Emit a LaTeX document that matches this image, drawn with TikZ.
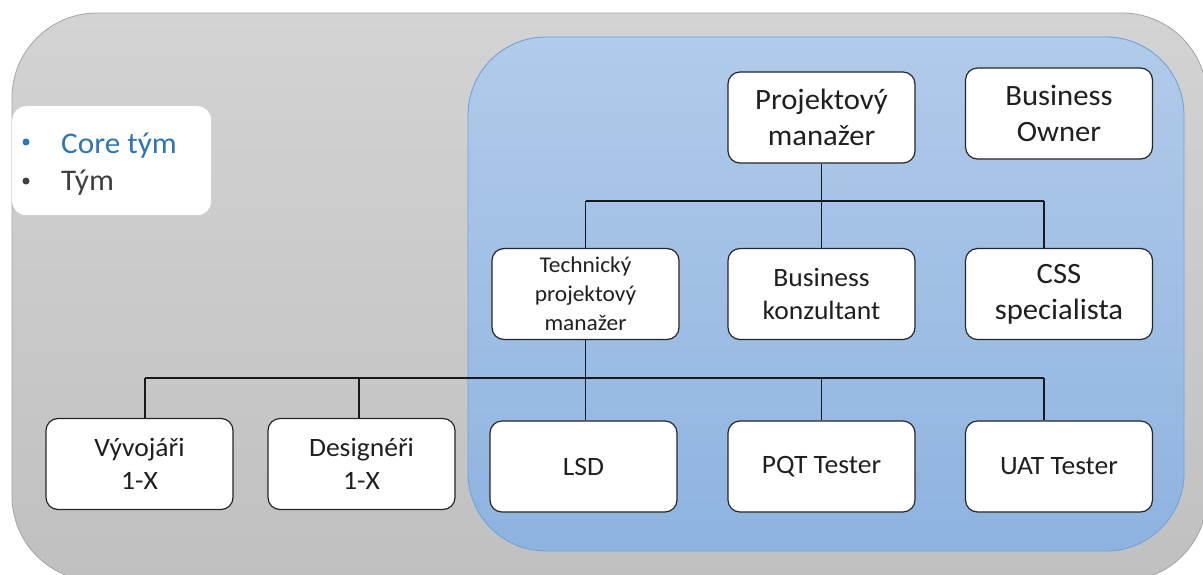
\documentclass[tikz,border=0pt]{standalone}
\usepackage{fontspec}
\setmainfont{Carlito}[FakeStretch=1.04]
\definecolor{frameTop}{HTML}{D3D3D3}
\definecolor{frameBot}{HTML}{C0C0C0}
\definecolor{frameEdge}{HTML}{A3A3A3}
\definecolor{coreTop}{HTML}{B1CBEA}
\definecolor{coreBot}{HTML}{8EB3E0}
\definecolor{coreEdge}{HTML}{6FA4DA}
\definecolor{coreText}{HTML}{2E75B6}
\definecolor{teamText}{HTML}{404040}
\begin{document}
\begin{tikzpicture}[x=1pt,y=-1pt,
  role/.style={draw=black!85, line width=1.2pt, fill=white, rounded corners=12pt,
               minimum width=187pt, minimum height=91pt, align=center,
               text=black!88, inner sep=2pt},
  bigtext/.style={font=\fontsize{29.5}{36}\selectfont},
  midtext/.style={font=\fontsize{26.5}{33}\selectfont},
  smalltext/.style={font=\fontsize{22.5}{29}\selectfont},
  link/.style={draw=black!90, line width=1.1pt},
  legendtext/.style={font=\fontsize{30}{36}\selectfont, anchor=base west, inner sep=0pt},
  dot/.style={circle, inner sep=0pt, minimum size=7pt}]
\useasboundingbox (0,0) rectangle (1203,574);
\clip (0,0) rectangle (1203,574);

% whole team area
\path[draw=frameEdge, line width=0.8pt, rounded corners=85pt,
      top color=frameTop, bottom color=frameBot] (12,13) rectangle (1207,581);
% core team area
\path[draw=coreEdge, line width=0.9pt, rounded corners=78pt,
      top color=coreTop, bottom color=coreBot] (468,37) rectangle (1184,551);

% legend
\node[fill=white, rounded corners=14pt, minimum width=199pt, minimum height=109pt,
      anchor=north west, inner sep=0pt] (legend) at (12,106) {};
\node[dot, fill=coreText] (bulletA) at (26,142) {};
\node[legendtext, text=coreText] (coreLbl) at (61,153) {Core tým};
\node[dot, fill=teamText] (bulletB) at (26,181) {};
\node[legendtext, text=teamText] (teamLbl) at (61,190) {Tým};

% roles
\node[role, bigtext]   (pm)  at (821.5,117.5) {Projektový\\manažer};
\node[role, bigtext]   (bo)  at (1059,113.5)  {Business\\Owner};
\node[role, smalltext] (tpm) at (585.5,294)   {Technický\\projektový\\manažer};
\node[role, midtext]   (bk)  at (821.5,294)   {Business\\konzultant};
\node[role, bigtext]   (css) at (1059,294)    {CSS\\specialista};
\node[role, midtext]   (vyv) at (139.5,464)   {Vývojáři\\1-X};
\node[role, midtext]   (des) at (361.5,464)   {Designéři\\1-X};
\node[role, midtext]   (lsd) at (583.5,466.5) {LSD};
\node[role, midtext]   (pqt) at (821.5,466.5) {PQT Tester};
\node[role, midtext]   (uat) at (1059,466.5)  {UAT Tester};

% upper bus
\coordinate (busA) at (585.5,201);
\coordinate (busAr) at (1044,201);
\draw[link] (pm.south) -- (bk.north);
\draw[link] (busA) -- (busAr);
\draw[link] (busA) -- (tpm.north);
\draw[link] (busAr) -- (busAr |- css.north);

% lower bus
\coordinate (busB) at (585.5,378);
\coordinate (busBl) at (145,378);
\coordinate (busBd) at (359,378);
\coordinate (busBp) at (821.5,378);
\coordinate (busBr) at (1044,378);
\draw[link] (tpm.south) -- (tpm.south |- lsd.north);
\draw[link] (busBl) -- (busBr);
\draw[link] (busBl) -- (busBl |- vyv.north);
\draw[link] (busBd) -- (busBd |- des.north);
\draw[link] (busBp) -- (pqt.north);
\draw[link] (busBr) -- (busBr |- uat.north);
\end{tikzpicture}
\end{document}
